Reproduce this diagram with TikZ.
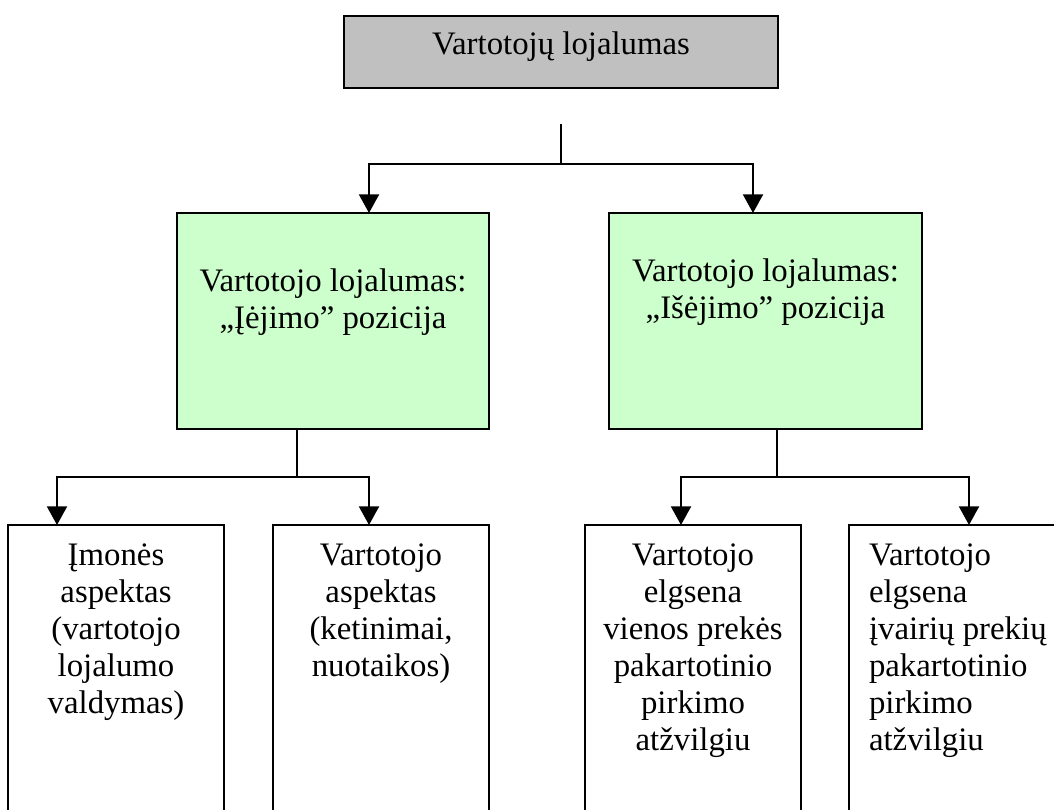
\documentclass[tikz,border=0pt]{standalone}
\usepackage{fontspec}
\setmainfont{Liberation Serif}
\usetikzlibrary{arrows.meta,calc}
\definecolor{headgray}{HTML}{C0C0C0}
\definecolor{palegreen}{HTML}{CCFFCC}
\begin{document}
\begin{tikzpicture}[x=0.75pt,y=-0.75pt,
  box/.style={draw=black,line width=1.6pt,rectangle,inner sep=0pt,outer sep=0pt},
  txt/.style={inner sep=0pt,outer sep=0pt,anchor=base,font=\fontsize{24.6}{27.75}\selectfont},
  conn/.style={line width=1.6pt},
  arr/.style={line width=1.6pt,-{Triangle[width=15pt,length=14pt]}}]
\clip (0,0) rectangle (1054,810);
\fill[white] (0,0) rectangle (1054,810);

% top level
\node[box,fill=headgray,minimum width=325.5pt,minimum height=54pt] (top) at (561,52) {};
\node[txt] (toptxt) at (561,55) {Vartotojų lojalumas};

% second level (text nodes are placed by the baseline of their last line)
\node[box,fill=palegreen,minimum width=234pt,minimum height=162pt] (g1) at (333,321) {};
\node[txt,align=center] (g1txt) at (333,328) {Vartotojo lojalumas:\\„Įėjimo” pozicija};
\node[box,fill=palegreen,minimum width=234.75pt,minimum height=162pt] (g2) at (765.5,321) {};
\node[txt,align=center] (g2txt) at (765.5,318) {Vartotojo lojalumas:\\„Išėjimo” pozicija};

% third level
\node[box,minimum width=162pt,minimum height=229.5pt] (b1) at (116,678) {};
\node[txt,align=center] (b1txt) at (116,713) {Įmonės\\aspektas\\(vartotojo\\lojalumo\\valdymas)};
\node[box,minimum width=162pt,minimum height=229.5pt] (b2) at (381,678) {};
\node[txt,align=center] (b2txt) at (381,676) {Vartotojo\\aspektas\\(ketinimai,\\nuotaikos)};
\node[box,minimum width=162pt,minimum height=229.5pt] (b3) at (693,678) {};
\node[txt,align=center] (b3txt) at (693,750) {Vartotojo\\elgsena\\vienos prekės\\pakartotinio\\pirkimo\\atžvilgiu};
\node[box,minimum width=165.75pt,minimum height=229.5pt] (b4) at (959.5,678) {};
\node[txt,align=left,anchor=base west] (b4txt) at (869,750) {Vartotojo\\elgsena\\įvairių prekių\\pakartotinio\\pirkimo\\atžvilgiu};

% connectors from the top box
\coordinate (s0) at ($(top.south)+(0,36)$);
\coordinate (j0) at ($(top.south)+(0,76)$);
\draw[conn] (s0) -- (j0);
\draw[arr] (j0) -| ($(g1.north)+(36,0)$);
\draw[arr] (j0) -| ($(g2.north)+(-12.5,0)$);

% connectors from the left green box
\coordinate (j1) at ($(g1.south)+(-36,48)$);
\draw[conn] ($(g1.south)+(-36,0)$) -- (j1);
\draw[arr] (j1) -| ($(b1.north)+(-59,0)$);
\draw[arr] (j1) -| ($(b2.north)+(-12,0)$);

% connectors from the right green box
\coordinate (j2) at ($(g2.south)+(11.5,48)$);
\draw[conn] ($(g2.south)+(11.5,0)$) -- (j2);
\draw[arr] (j2) -| ($(b3.north)+(-12,0)$);
\draw[arr] (j2) -| ($(b4.north)+(9.5,0)$);
\end{tikzpicture}
\end{document}
